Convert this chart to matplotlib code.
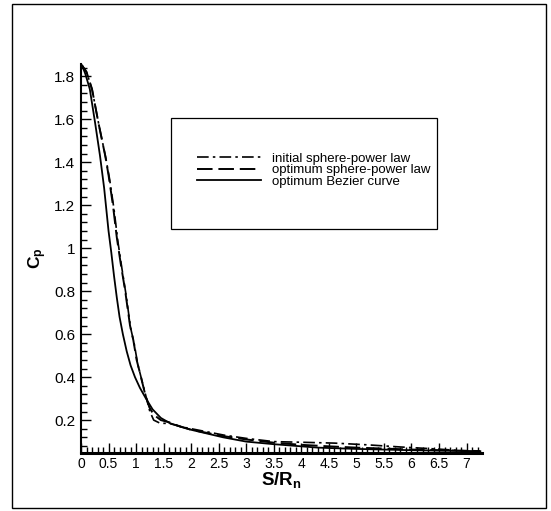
import numpy as np
import matplotlib
matplotlib.use("Agg")
import matplotlib.pyplot as plt
from matplotlib.ticker import MultipleLocator, FuncFormatter
from matplotlib.lines import Line2D
from matplotlib.patches import Rectangle

plt.rcParams['font.family'] = ['Liberation Sans', 'DejaVu Sans']
plt.rcParams['mathtext.fontset'] = 'custom'
plt.rcParams['mathtext.rm'] = 'Liberation Sans'
plt.rcParams['mathtext.bf'] = 'Liberation Sans:bold'

# optimum Bezier curve (solid)
bez_s = [0, 0.02, 0.08, 0.16, 0.255, 0.345, 0.42, 0.5, 0.55, 0.6, 0.65, 0.7, 0.76, 0.83,
         0.9, 0.98, 1.07, 1.18, 1.3, 1.45, 1.62, 2.0, 2.58, 3.0, 3.5, 4.3, 5.0, 6.0, 7.25]
bez_cp = [1.84, 1.85, 1.81, 1.74, 1.585, 1.43, 1.28, 1.08, 0.98, 0.87, 0.77, 0.68, 0.6, 0.52,
          0.455, 0.4, 0.35, 0.3, 0.25, 0.21, 0.185, 0.155, 0.12, 0.10, 0.088, 0.072, 0.066,
          0.06, 0.055]

# optimum sphere-power law (dashed)
opt_s = [0, 0.02, 0.1, 0.2, 0.315, 0.44, 0.5, 0.58, 0.65, 0.72, 0.8, 0.89, 0.95, 1.01,
         1.07, 1.16, 1.24, 1.32, 1.45, 1.6, 1.8, 2.0, 2.3, 2.6, 3.0, 3.5, 4.0, 4.5, 5.0, 6.0, 7.25]
opt_cp = [1.84, 1.85, 1.82, 1.74, 1.585, 1.43, 1.34, 1.2, 1.05, 0.93, 0.805, 0.64, 0.572, 0.48,
          0.42, 0.325, 0.26, 0.225, 0.2, 0.19, 0.17, 0.155, 0.14, 0.125, 0.11, 0.095, 0.085,
          0.078, 0.072, 0.063, 0.056]

# initial sphere-power law (dash-dot)
ini_s = [0, 0.02, 0.1, 0.2, 0.32, 0.45, 0.52, 0.6, 0.67, 0.74, 0.82, 0.9, 0.97, 1.03, 1.1,
         1.18, 1.25, 1.32, 1.44, 1.6, 1.8, 2.0, 2.3, 2.6, 3.0, 3.5, 4.0, 4.6, 5.2, 5.8, 6.5, 7.25]
ini_cp = [1.84, 1.85, 1.82, 1.74, 1.58, 1.42, 1.32, 1.18, 1.03, 0.91, 0.78, 0.63, 0.55, 0.46,
          0.39, 0.31, 0.24, 0.2, 0.185, 0.185, 0.17, 0.16, 0.145, 0.13, 0.115, 0.1, 0.097,
          0.093, 0.085, 0.075, 0.065, 0.052]

W, H = 551, 511
fig = plt.figure(figsize=(W / 100, H / 100), dpi=100)
ax = fig.add_axes([81 / W, 1 - 453 / H, (482 - 81) / W, (453 - 64) / H])

ax.plot(ini_s, ini_cp, color='black', lw=1.2, dashes=(7, 2.5, 1.5, 2.5))
ax.plot(opt_s, opt_cp, color='black', lw=1.4, dashes=(8, 3))
ax.plot(bez_s, bez_cp, color='black', lw=1.3)

ax.set_xlim(0, 7.28)
ax.set_ylim(0.047, 1.857)

for side in ['top', 'right']:
    ax.spines[side].set_visible(False)
ax.spines['left'].set_linewidth(1.5)
ax.spines['bottom'].set_linewidth(2.2)

ax.xaxis.set_major_locator(MultipleLocator(0.5))
ax.xaxis.set_minor_locator(MultipleLocator(0.1))
ax.yaxis.set_major_locator(MultipleLocator(0.2))
ax.yaxis.set_minor_locator(MultipleLocator(0.04))
fmt = FuncFormatter(lambda v, p: '%g' % round(v, 2))
ax.xaxis.set_major_formatter(fmt)
ax.yaxis.set_major_formatter(fmt)
ax.tick_params(which='both', direction='in', width=1)
ax.tick_params(which='major', length=7)
ax.tick_params(which='minor', length=4)
ax.tick_params(axis='x', labelsize=10, pad=3)
ax.tick_params(axis='y', labelsize=11, pad=4)

ax.set_xlabel(r'$\mathbf{S/R_n}$', fontsize=13.5, labelpad=-1)
ax.set_ylabel(r'$\mathbf{C_p}$', fontsize=12.5, labelpad=4)

handles = [
    Line2D([], [], color='black', lw=1.2, dashes=(7, 2.5, 1.5, 2.5)),
    Line2D([], [], color='black', lw=1.4, dashes=(8, 3)),
    Line2D([], [], color='black', lw=1.3),
]
labels = ['initial sphere-power law', 'optimum sphere-power law', 'optimum Bezier curve']
ax.legend(handles, labels, frameon=False, fontsize=9.5, handlelength=4.9,
          handletextpad=0.8, labelspacing=-0.05, borderpad=0, loc='center left',
          bbox_to_anchor=(190 / W, 1 - 170 / H), bbox_transform=fig.transFigure)

# legend box
fig.patches.append(Rectangle((171 / W, 1 - 229 / H), (437 - 171) / W, (229 - 118) / H,
                             transform=fig.transFigure, fill=False, lw=0.9,
                             edgecolor='black'))
# outer frame
fig.patches.append(Rectangle((12 / W, 1 - 508 / H), (546 - 12) / W, (508 - 4) / H,
                             transform=fig.transFigure, fill=False, lw=1.0,
                             edgecolor='black'))

fig.savefig('out.png', dpi=100)
